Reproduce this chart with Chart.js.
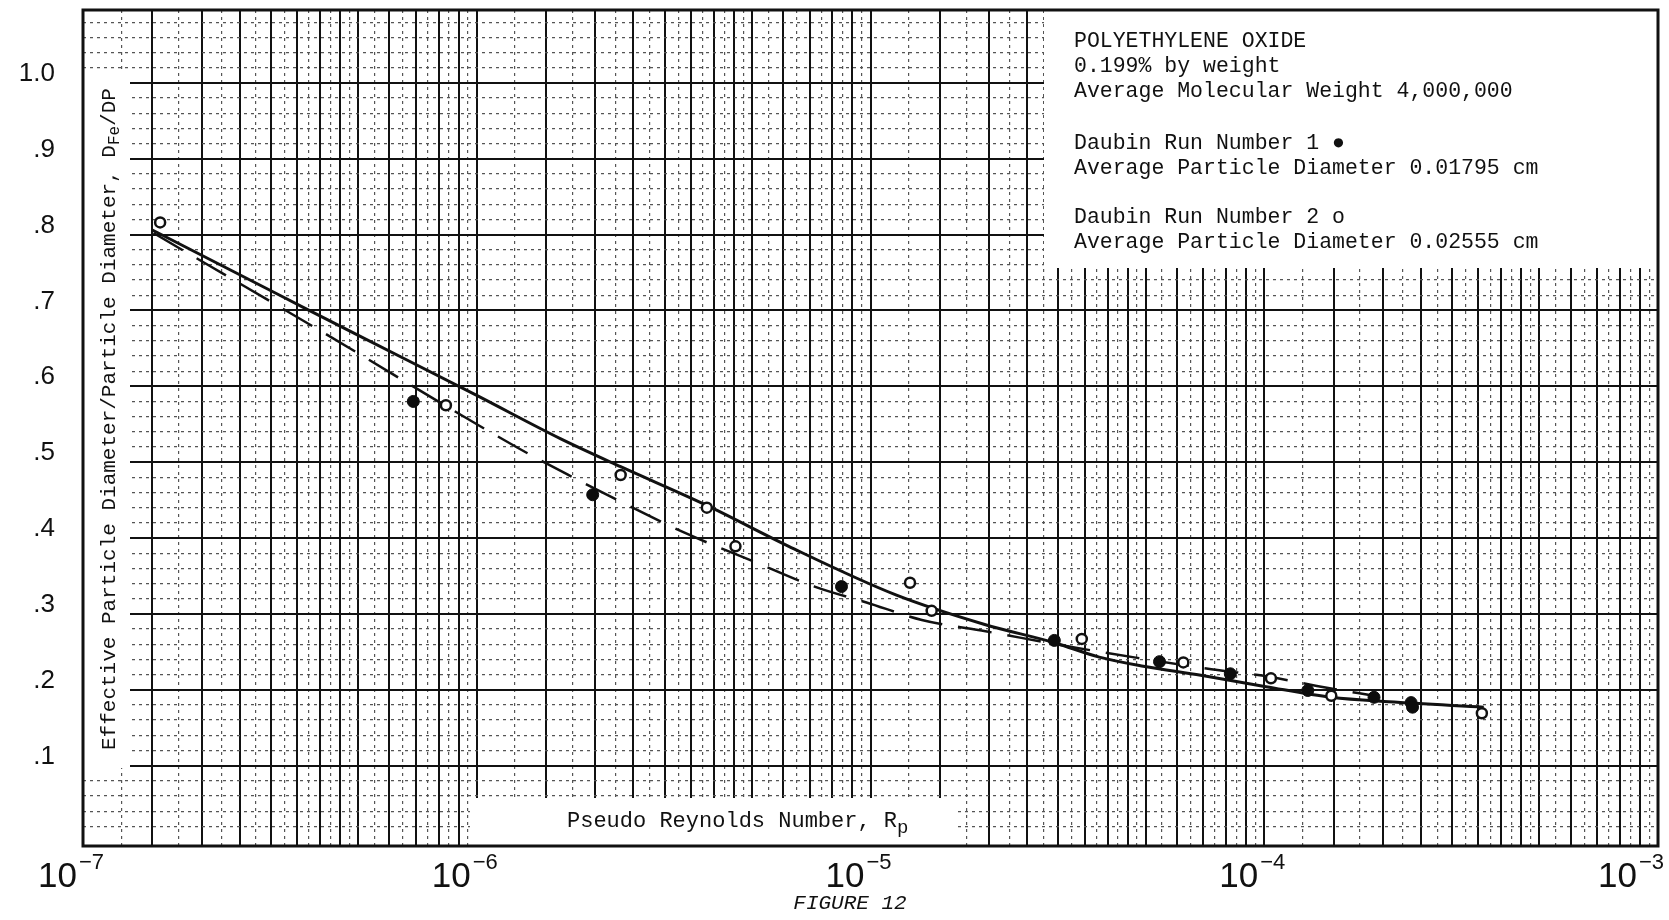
<!DOCTYPE html>
<html>
<head>
<meta charset="utf-8">
<title>Figure 12</title>
<script src="https://cdn.jsdelivr.net/npm/chart.js@4.4.0/dist/chart.umd.min.js"></script>
<style>
  html, body { margin: 0; padding: 0; background: #fff; }
  #wrap { width: 1669px; height: 920px; position: relative; }
</style>
</head>
<body>
<div id="wrap"><canvas id="figure12"></canvas></div>
<script>
// bottom axis decades (pseudo Reynolds number)
const decades = [1e-7, 1e-6, 1e-5, 1e-4, 1e-3];
const decadeExponents = ['7', '6', '5', '4', '3'];

// graph paper rulings inside one decade
const paperMajor = [1, 1.5, 2, 2.5, 3, 3.5, 4, 4.5, 5, 6, 7, 8, 9];
const paperMinor = [1.25, 1.75, 2.25, 2.75, 3.25, 3.75, 4.25, 4.75, 5.5, 6.5, 7.5, 8.5, 9.5];

// left axis
const ratioTicks = [0.1, 0.2, 0.3, 0.4, 0.5, 0.6, 0.7, 0.8, 0.9, 1.0];
const ratioTickLabels = ['.1', '.2', '.3', '.4', '.5', '.6', '.7', '.8', '.9', '1.0'];

// Daubin run 1 (filled dots)
const run1Re = [6.9e-7, 1.97e-6, 8.44e-6, 2.93e-5, 5.42e-5, 8.2e-5, 1.29e-4, 1.9e-4, 2.36e-4, 2.38e-4];
const run1Ratio = [0.58, 0.457, 0.336, 0.265, 0.237, 0.221, 0.199, 0.19, 0.183, 0.177];

// Daubin run 2 (open circles)
const run2Re = [1.57e-7, 8.35e-7, 2.32e-6, 3.84e-6, 4.54e-6, 1.26e-5, 1.43e-5, 3.44e-5, 6.23e-5, 1.04e-4, 1.48e-4, 3.57e-4];
const run2Ratio = [0.816, 0.575, 0.483, 0.44, 0.389, 0.341, 0.304, 0.267, 0.236, 0.215, 0.192, 0.169];

// solid fitted curve
const solidRe = [1.5e-7, 3.27e-7, 4.96e-7, 1.0e-6, 1.63e-6, 2.32e-6, 3.84e-6, 6.2e-6, 1.16e-5, 1.95e-5, 2.93e-5, 3.81e-5, 4.93e-5, 6.9e-5, 1.01e-4, 1.48e-4, 2.07e-4, 3.61e-4];
const solidRatio = [0.806, 0.716, 0.668, 0.588, 0.531, 0.494, 0.443, 0.389, 0.325, 0.286, 0.262, 0.243, 0.231, 0.219, 0.204, 0.19, 0.184, 0.177];

// dashed fitted curve
const dashedRe = [1.51e-7, 3.98e-7, 1.27e-6, 1.74e-6, 2.4e-6, 3.37e-6, 5.11e-6, 7.21e-6, 9.77e-6, 1.35e-5, 1.96e-5, 3.27e-5, 4.76e-5, 7.13e-5, 1.03e-4, 1.36e-4, 1.95e-4];
const dashedRatio = [0.802, 0.674, 0.519, 0.481, 0.444, 0.407, 0.368, 0.336, 0.315, 0.292, 0.277, 0.256, 0.242, 0.228, 0.217, 0.205, 0.191];

const legendLines = [
  'POLYETHYLENE OXIDE',
  '0.199% by weight',
  'Average Molecular Weight 4,000,000',
  'Daubin Run Number 1 \u25CF',
  'Average Particle Diameter 0.01795 cm',
  'Daubin Run Number 2 o',
  'Average Particle Diameter 0.02555 cm'
];
const legendBaselines = [47, 72, 97, 149, 174, 223, 248];

// build the paper grid tick lists
const xGridTicks = [];
decades.slice(0, -1).forEach(d => {
  paperMajor.forEach(m => xGridTicks.push({ value: m * d, heavy: true }));
  paperMinor.forEach(m => xGridTicks.push({ value: m * d, heavy: false }));
});
xGridTicks.push({ value: decades[decades.length - 1], heavy: true });
xGridTicks.sort((a, b) => a.value - b.value);

const yGridTicks = [];
for (let k = 1; k <= 54; k++) {
  yGridTicks.push({ value: k / 50, heavy: k % 5 === 0 });
}

const heavyAt = (list, c) => !!(c.tick && list[c.index] && list[c.index].heavy);

const pairs = (xs, ys) => xs.map((x, i) => ({ x: x, y: ys[i] }));

const MONO = '"Liberation Mono", "DejaVu Sans Mono", monospace';
const SANS = '"Liberation Sans", Arial, sans-serif';

function pinScale(s, size) {
  if (s.isHorizontal()) s.height = size; else s.width = size;
  s.paddingTop = 0;
  s.paddingBottom = 0;
  s.paddingLeft = 0;
  s.paddingRight = 0;
}

const paperNotes = {
  id: 'paperNotes',
  beforeDatasetsDraw(chart) {
    const { ctx, chartArea: a } = chart;
    ctx.save();
    ctx.fillStyle = '#fff';
    ctx.fillRect(1044, a.top, a.right - 1044, 268 - a.top);   // legend panel
    ctx.fillRect(a.left, 72, 47, 696);                          // y title strip
    ctx.fillRect(470, 798, 488, a.bottom - 798);                // x title box

    ctx.fillStyle = '#111';
    ctx.textBaseline = 'alphabetic';
    ctx.textAlign = 'left';
    ctx.font = '21.5px ' + MONO;
    legendLines.forEach((t, i) => ctx.fillText(t, 1074, legendBaselines[i]));

    // x title
    ctx.font = '22px ' + MONO;
    const main = 'Pseudo Reynolds Number, R';
    ctx.fillText(main, 567, 827);
    const w = ctx.measureText(main).width;
    ctx.font = '19px ' + MONO;
    ctx.fillText('p', 567 + w, 833);

    // y title, rotated
    ctx.translate(115, 750);
    ctx.rotate(-Math.PI / 2);
    ctx.font = '21px ' + MONO;
    const t1 = 'Effective Particle Diameter/Particle Diameter, D';
    ctx.fillText(t1, 0, 0);
    let off = ctx.measureText(t1).width;
    ctx.font = '16px ' + MONO;
    ctx.fillText('Fe', off, 4);
    off += ctx.measureText('Fe').width;
    ctx.font = '21px ' + MONO;
    ctx.fillText('/DP', off, 0);
    ctx.restore();
  },
  afterDatasetsDraw(chart) {
    const { ctx, chartArea: a } = chart;
    ctx.save();
    ctx.strokeStyle = '#111';
    ctx.lineWidth = 3;
    ctx.strokeRect(a.left, a.top, a.right - a.left, a.bottom - a.top);
    ctx.restore();
  },
  afterDraw(chart) {
    const { ctx, scales: { x } } = chart;
    ctx.save();
    ctx.fillStyle = '#111';
    ctx.textBaseline = 'alphabetic';
    decades.forEach((d, i) => {
      const px = x.getPixelForValue(d);
      ctx.font = '35px ' + SANS;
      const baseW = ctx.measureText('10').width;
      ctx.font = '22px ' + SANS;
      const sup = '\u2212' + decadeExponents[i];
      const supW = ctx.measureText(sup).width;
      let right = px - 6;
      if (right + supW + 2 > 1664) right = 1664 - supW - 2;
      ctx.textAlign = 'left';
      ctx.fillText(sup, right + 2, 869);
      ctx.font = '35px ' + SANS;
      ctx.fillText('10', right - baseW, 887);
    });
    ctx.font = 'italic 21px ' + MONO;
    ctx.textAlign = 'center';
    ctx.fillText('FIGURE 12', 850, 909);
    ctx.restore();
  }
};

new Chart(document.getElementById('figure12'), {
  type: 'scatter',
  data: {
    datasets: [
      {
        label: 'Daubin Run Number 1',
        data: pairs(run1Re, run1Ratio),
        pointRadius: 6,
        pointBackgroundColor: '#0d0d0d',
        pointBorderColor: '#0d0d0d',
        pointBorderWidth: 1,
        order: 0
      },
      {
        label: 'Daubin Run Number 2',
        data: pairs(run2Re, run2Ratio),
        pointRadius: 5,
        pointBackgroundColor: '#fff',
        pointBorderColor: '#111',
        pointBorderWidth: 2.5,
        order: 0
      },
      {
        label: 'solid curve',
        data: pairs(solidRe, solidRatio),
        showLine: true,
        pointRadius: 0,
        borderColor: '#111',
        borderWidth: 3,
        cubicInterpolationMode: 'monotone',
        order: 1
      },
      {
        label: 'dashed curve',
        data: pairs(dashedRe, dashedRatio),
        showLine: true,
        pointRadius: 0,
        borderColor: '#111',
        borderWidth: 2.5,
        borderDash: [34, 16],
        cubicInterpolationMode: 'monotone',
        order: 1
      }
    ]
  },
  options: {
    responsive: true,
    maintainAspectRatio: false,
    animation: false,
    events: [],
    layout: { padding: { left: 0, top: 10, right: 11, bottom: 0 } },
    plugins: {
      legend: { display: false },
      tooltip: { enabled: false }
    },
    scales: {
      x: {
        type: 'logarithmic',
        min: 1e-7,
        max: 1e-3,
        afterBuildTicks: s => { s.ticks = xGridTicks.map(t => ({ value: t.value })); },
        afterFit: s => pinScale(s, 74),
        ticks: { display: false },
        grid: {
          drawTicks: false,
          color: c => heavyAt(xGridTicks, c) ? '#111' : '#555',
          lineWidth: c => heavyAt(xGridTicks, c) ? 2 : 1.2
        },
        border: { display: false, dash: c => (c.tick && !heavyAt(xGridTicks, c)) ? [3, 4] : [] }
      },
      y: {
        min: -0.006,
        max: 1.096,
        afterBuildTicks: s => { s.ticks = yGridTicks.map(t => ({ value: t.value })); },
        afterFit: s => pinScale(s, 83),
        ticks: {
          autoSkip: false,
          padding: 28,
          labelOffset: -9,
          color: '#111',
          font: { family: SANS, size: 26 },
          callback: v => {
            const i = ratioTicks.findIndex(t => Math.abs(t - v) < 1e-6);
            return i >= 0 ? ratioTickLabels[i] : '';
          }
        },
        grid: {
          drawTicks: false,
          color: c => heavyAt(yGridTicks, c) ? '#111' : '#555',
          lineWidth: c => heavyAt(yGridTicks, c) ? 2 : 1.2
        },
        border: { display: false, dash: c => (c.tick && !heavyAt(yGridTicks, c)) ? [3, 4] : [] }
      }
    }
  },
  plugins: [paperNotes]
});
</script>
</body>
</html>
